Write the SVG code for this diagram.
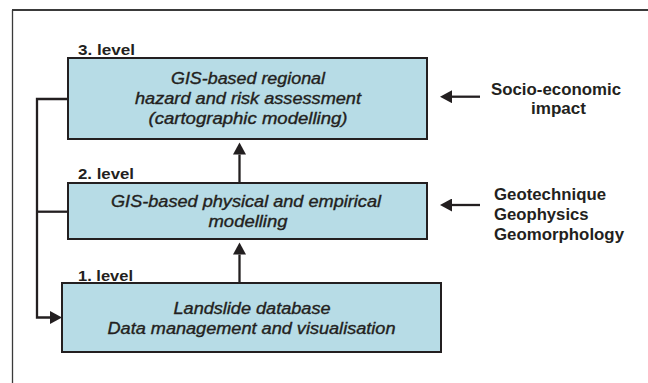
<svg xmlns="http://www.w3.org/2000/svg" width="648" height="383" viewBox="0 0 648 383">
<style>
.box{fill:#b7dce6;stroke:#231f20;stroke-width:2}
.bt{font-family:"Liberation Sans",Arial,sans-serif;font-style:italic;font-size:16px;fill:#231f20;stroke:#231f20;stroke-width:0.35;text-anchor:middle}
.lv{font-family:"Liberation Sans",Arial,sans-serif;font-weight:bold;font-size:14px;fill:#231f20}
.st{font-family:"Liberation Sans",Arial,sans-serif;font-weight:bold;font-size:16.5px;fill:#231f20}
.cn{fill:none;stroke:#231f20;stroke-width:2.3}
.fr{fill:none;stroke:#3a3a3a}
</style>
<defs>
<marker id="ah" markerUnits="userSpaceOnUse" markerWidth="13" markerHeight="13" refX="0" refY="6.5" orient="auto">
<path d="M0,0 L12,6.5 L0,13 z" fill="#231f20"/>
</marker>
</defs>
<path class="fr" d="M12,10 H648" stroke-width="2"/>
<path class="fr" d="M12.5,10 V383" stroke-width="1.3"/>
<g id="connectors">
<path class="cn" d="M239.5,183 V154.5" marker-end="url(#ah)"/>
<path class="cn" d="M239.5,283 V254.5" marker-end="url(#ah)"/>
<path class="cn" d="M68,99 H37 V317.5 H50" marker-end="url(#ah)"/>
<path class="cn" d="M68,211.7 H37"/>
<path class="cn" d="M480,96.7 H452" marker-end="url(#ah)"/>
<path class="cn" d="M480,205 H452" marker-end="url(#ah)"/>
</g>
<g id="level3">
<text class="lv" x="78" y="55" textLength="57" lengthAdjust="spacingAndGlyphs">3. level</text>
<rect class="box" x="68" y="58" width="359" height="81"/>
<text class="bt" x="248" y="84.3" textLength="154" lengthAdjust="spacingAndGlyphs">GIS-based regional</text>
<text class="bt" x="248" y="104.3" textLength="226" lengthAdjust="spacingAndGlyphs">hazard and risk assessment</text>
<text class="bt" x="248" y="124" textLength="199" lengthAdjust="spacingAndGlyphs">(cartographic modelling)</text>
</g>
<g id="level2">
<text class="lv" x="78" y="179.3" textLength="56" lengthAdjust="spacingAndGlyphs">2. level</text>
<rect class="box" x="68" y="183" width="359" height="56"/>
<text class="bt" x="246" y="207" textLength="270" lengthAdjust="spacingAndGlyphs">GIS-based physical and empirical</text>
<text class="bt" x="248" y="227" textLength="79" lengthAdjust="spacingAndGlyphs">modelling</text>
</g>
<g id="level1">
<text class="lv" x="78" y="281" textLength="55" lengthAdjust="spacingAndGlyphs">1. level</text>
<rect class="box" x="62" y="283" width="379" height="69"/>
<text class="bt" x="252" y="314" textLength="157" lengthAdjust="spacingAndGlyphs">Landslide database</text>
<text class="bt" x="251.5" y="333.5" textLength="288" lengthAdjust="spacingAndGlyphs">Data management and visualisation</text>
</g>
<g id="socio">
<text class="st" x="491" y="95" textLength="130" lengthAdjust="spacingAndGlyphs">Socio-economic</text>
<text class="st" x="531" y="114" textLength="55" lengthAdjust="spacingAndGlyphs">impact</text>
</g>
<g id="geo">
<text class="st" x="494" y="200" textLength="112" lengthAdjust="spacingAndGlyphs">Geotechnique</text>
<text class="st" x="494" y="220" textLength="94.6" lengthAdjust="spacingAndGlyphs">Geophysics</text>
<text class="st" x="494" y="240" textLength="130" lengthAdjust="spacingAndGlyphs">Geomorphology</text>
</g>
</svg>
